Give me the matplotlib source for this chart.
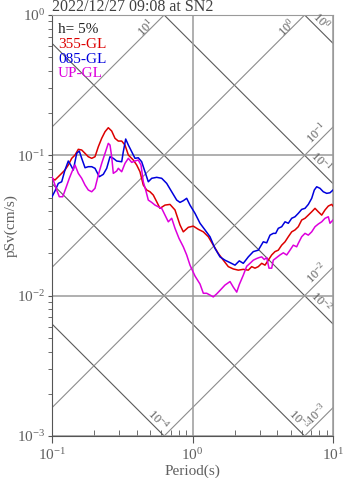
import numpy as np
import matplotlib
matplotlib.use("Agg")
import matplotlib.pyplot as plt
from matplotlib.ticker import LogLocator, LogFormatterMathtext, NullFormatter

plt.rcParams['font.family'] = ['Liberation Serif', 'DejaVu Serif']
plt.rcParams['mathtext.default'] = 'regular'

title = "2022/12/27 09:08 at SN2"
damping = "h= 5%"
names = ["355-GL", "085-GL", "UP-GL"]
colors = ["#dd0000", "#0000dd", "#dd00dd"]

# 355-GL pseudo velocity response, period (s) / pSv (cm/s)
t_355 = [0.100, 0.1050, 0.1109, 0.1172, 0.1237, 0.1306, 0.1381, 0.1458, 0.1539, 0.1627,
         0.1718, 0.1813, 0.1917, 0.2023, 0.2136, 0.2258, 0.2384, 0.2516, 0.2660, 0.2808,
         0.2964, 0.3134, 0.3308, 0.3494, 0.3790, 0.4007, 0.4229, 0.4464, 0.4721, 0.4983,
         0.5260, 0.5561, 0.5870, 0.6372, 0.6916, 0.7506, 0.8147, 0.8600, 0.9335, 1.013,
         1.100, 1.194, 1.296, 1.406, 1.526, 1.657, 1.798, 1.952, 2.118, 2.299,
         2.496, 2.638, 2.785, 2.940, 3.108, 3.281, 3.463, 3.661, 3.865, 4.080,
         4.313, 4.555, 4.808, 5.082, 5.364, 5.662, 5.987, 6.320, 6.672, 7.054,
         7.447, 7.860, 8.309, 8.772, 9.259, 9.788, 10.0]
sv_355 = [0.0686, 0.0667, 0.0704, 0.0744, 0.0786, 0.0853, 0.0952, 0.1005, 0.1104, 0.1091,
          0.1033, 0.0977, 0.0952, 0.0977, 0.1151, 0.1322, 0.1473, 0.1573, 0.1490, 0.1322,
          0.1264, 0.1264, 0.1184, 0.1005, 0.0926, 0.0853, 0.0764, 0.0614, 0.0566, 0.0550,
          0.0521, 0.0467, 0.0419, 0.0442, 0.0447, 0.0408, 0.0319, 0.0285, 0.0307, 0.0313,
          0.0297, 0.0285, 0.0263, 0.0229, 0.0200, 0.0179, 0.0161, 0.0155, 0.0152, 0.0154,
          0.0152, 0.0161, 0.0157, 0.0161, 0.0170, 0.0165, 0.0179, 0.0195, 0.0206, 0.0211,
          0.0229, 0.0242, 0.0263, 0.0285, 0.0294, 0.0310, 0.0346, 0.0356, 0.0375, 0.0396,
          0.0419, 0.0396, 0.0375, 0.0408, 0.0435, 0.0447, 0.0435]

# 085-GL
t_085 = [0.100, 0.1050, 0.1109, 0.1172, 0.1237, 0.1306, 0.1359, 0.1418, 0.1499, 0.1564,
         0.1627, 0.1718, 0.1813, 0.1917, 0.2023, 0.2171, 0.2318, 0.2451, 0.2587, 0.2731,
         0.2887, 0.3134, 0.3217, 0.3346, 0.3494, 0.3692, 0.3897, 0.4113, 0.4348, 0.4590,
         0.4846, 0.5124, 0.5561, 0.6036, 0.6552, 0.7112, 0.7718, 0.8147, 0.8600, 0.9090,
         0.9598, 1.042, 1.131, 1.228, 1.332, 1.446, 1.569, 1.703, 1.849, 2.007,
         2.153, 2.299, 2.496, 2.708, 2.940, 3.190, 3.374, 3.561, 3.759, 3.910,
         4.080, 4.313, 4.555, 4.808, 5.082, 5.364, 5.662, 5.987, 6.320, 6.672,
         7.054, 7.362, 7.656, 8.081, 8.531, 9.020, 9.519, 10.0]
sv_085 = [0.0507, 0.0557, 0.0631, 0.0648, 0.0786, 0.0911, 0.0853, 0.0786, 0.1033, 0.1073,
          0.0952, 0.0816, 0.0830, 0.0830, 0.0808, 0.0704, 0.0732, 0.0808, 0.0977, 0.0952,
          0.0911, 0.0900, 0.1061, 0.1307, 0.1184, 0.1061, 0.0952, 0.0961, 0.0900, 0.0764,
          0.0648, 0.0686, 0.0697, 0.0686, 0.0631, 0.0550, 0.0480, 0.0462, 0.0475, 0.0494,
          0.0442, 0.0386, 0.0328, 0.0294, 0.0263, 0.0217, 0.0189, 0.0179, 0.0172, 0.0165,
          0.0177, 0.0170, 0.0189, 0.0206, 0.0211, 0.0242, 0.0238, 0.0270, 0.0278, 0.0278,
          0.0302, 0.0310, 0.0336, 0.0328, 0.0356, 0.0365, 0.0386, 0.0412, 0.0419, 0.0447,
          0.0494, 0.0566, 0.0597, 0.0582, 0.0550, 0.0536, 0.0541, 0.0566]

# UP-GL
t_up = [0.100, 0.1021, 0.1080, 0.1127, 0.1192, 0.1258, 0.1328, 0.1381, 0.1458, 0.1539,
        0.1627, 0.1718, 0.1813, 0.1917, 0.2023, 0.2136, 0.2258, 0.2384, 0.2516, 0.2587,
        0.2660, 0.2731, 0.2887, 0.2964, 0.3134, 0.3308, 0.3494, 0.3692, 0.3897, 0.4113,
        0.4300, 0.4464, 0.4643, 0.4846, 0.5124, 0.5408, 0.5709, 0.6036, 0.6372, 0.6726,
        0.7112, 0.7506, 0.8015, 0.8600, 0.9090, 0.9598, 1.042, 1.131, 1.194, 1.262,
        1.332, 1.406, 1.487, 1.569, 1.703, 1.849, 1.952, 2.064, 2.153, 2.299,
        2.431, 2.566, 2.708, 2.864, 2.988, 3.108, 3.243, 3.374, 3.503, 3.661,
        3.759, 3.974, 4.195, 4.430, 4.683, 4.943, 5.216, 5.515, 5.662, 5.987,
        6.320, 6.672, 7.054, 7.447, 7.860, 8.309, 8.772, 9.259, 9.519, 10.0]
sv_up = [0.0704, 0.0667, 0.0566, 0.0507, 0.0507, 0.0588, 0.0686, 0.0756, 0.0853, 0.0744,
         0.0686, 0.0614, 0.0566, 0.0550, 0.0582, 0.0724, 0.0877, 0.1033, 0.1217, 0.1184,
         0.0977, 0.0744, 0.0773, 0.0808, 0.0764, 0.0877, 0.0952, 0.0891, 0.0911, 0.0926,
         0.0853, 0.0648, 0.0566, 0.0480, 0.0462, 0.0442, 0.0430, 0.0419, 0.0375, 0.0336,
         0.0356, 0.0302, 0.0256, 0.0223, 0.0195, 0.0165, 0.0138, 0.0121, 0.0104, 0.0104,
         0.0101, 0.0098, 0.0103, 0.0109, 0.0119, 0.0126, 0.0115, 0.0106, 0.0120, 0.0140,
         0.0162, 0.0170, 0.0179, 0.0184, 0.0187, 0.0189, 0.0181, 0.0187, 0.0157, 0.0157,
         0.0179, 0.0187, 0.0195, 0.0202, 0.0195, 0.0211, 0.0229, 0.0223, 0.0236, 0.0263,
         0.0278, 0.0270, 0.0285, 0.0310, 0.0324, 0.0336, 0.0356, 0.0365, 0.0328, 0.0346]

# tripartite lines: displacement in cm, acceleration in cm/s^2
sd_levels = [1e-4, 1e-3, 1e-2, 1e-1, 1e0]
sa_levels = [1e-3, 1e-2, 1e-1, 1e0, 1e1]

T_MIN, T_MAX = 0.1, 10.0
V_MIN, V_MAX = 1e-3, 1.0

fig = plt.figure(figsize=(3.47, 4.78), dpi=100)
ax = fig.add_axes([52 / 347, 1 - 436 / 478, 281 / 347, 421 / 478])
ax.set_xscale('log')
ax.set_yscale('log')
ax.set_xlim(T_MIN, T_MAX)
ax.set_ylim(V_MIN, V_MAX)

grey_txt = '#606060'
px = 0.72  # pixels -> points at 100 dpi

tt = np.logspace(-1, 1, 200)
for sd in sd_levels:
    ax.plot(tt, 2 * np.pi * sd / tt, color='#5a5a5a', lw=0.8, zorder=1)
    t_exit = 2 * np.pi * sd / V_MIN
    if t_exit <= T_MAX:
        xy, off = (t_exit, V_MIN), (-6, 16)
    else:
        xy, off = (T_MAX, 2 * np.pi * sd / T_MAX), (-12, 22)
    ax.annotate(LogFormatterMathtext()(sd), xy=xy, xytext=(off[0] * px, off[1] * px),
                textcoords='offset points', rotation=-45, ha='center', va='center',
                fontsize=9, color=grey_txt, annotation_clip=False)

for sa in sa_levels:
    ax.plot(tt, sa * tt / (2 * np.pi), color='#8c8c8c', lw=0.8, zorder=1)
    t_exit = 2 * np.pi * V_MAX / sa
    if t_exit <= T_MAX:
        xy, off = (t_exit, V_MAX), (-18, -13)
    else:
        xy, off = (T_MAX, sa * T_MAX / (2 * np.pi)), (-16, -6)
    ax.annotate(LogFormatterMathtext()(sa), xy=xy, xytext=(off[0] * px, off[1] * px),
                textcoords='offset points', rotation=45, ha='center', va='center',
                fontsize=9, color=grey_txt, annotation_clip=False)

ax.grid(True, which='major', color='#9a9a9a', lw=1.1, zorder=1)

for t, sv, c in zip([t_355, t_085, t_up], [sv_355, sv_085, sv_up], colors):
    ax.plot(t, sv, color=c, lw=1.1, zorder=3)

# axes frame and ticks
for side in ['left', 'bottom']:
    ax.spines[side].set_color('#555555')
for side in ['top', 'right']:
    ax.spines[side].set_color('#9a9a9a')
ax.yaxis.set_major_locator(LogLocator(base=10))
ax.yaxis.set_minor_locator(LogLocator(base=10, subs=np.arange(2, 10)))
ax.xaxis.set_minor_locator(LogLocator(base=10, subs=np.arange(2, 10)))
ax.xaxis.set_minor_formatter(NullFormatter())
ax.yaxis.set_minor_formatter(NullFormatter())
ax.tick_params(axis='y', which='both', direction='out', length=3, color='#555555',
               labelcolor=grey_txt, labelsize=11, pad=2)
ax.tick_params(axis='x', which='major', direction='out', length=5, color='#555555',
               labelcolor=grey_txt, labelsize=11, pad=3)
ax.tick_params(axis='x', which='minor', direction='in', length=4, color='#555555')

ax.set_xlabel('Period(s)', color=grey_txt, fontsize=11, labelpad=1)
fig.text(11 / 347, 1 - 226 / 478, 'pSv(cm/s)', rotation=90, ha='center', va='center',
         color=grey_txt, fontsize=11)

ax.text(0.0, 1.010, title, transform=ax.transAxes, fontsize=11.5, color='#404040',
        ha='left', va='baseline')

legend_rows = [(damping, '#222222')] + list(zip(names, colors))
for i, (label, c) in enumerate(legend_rows):
    ax.annotate(label, xy=(0, 1), xycoords='axes fraction',
                xytext=(6 * px, -(18 + 14.8 * i) * px), textcoords='offset points',
                ha='left', va='baseline', fontsize=11, color=c)

fig.savefig('out.png', dpi=100)
